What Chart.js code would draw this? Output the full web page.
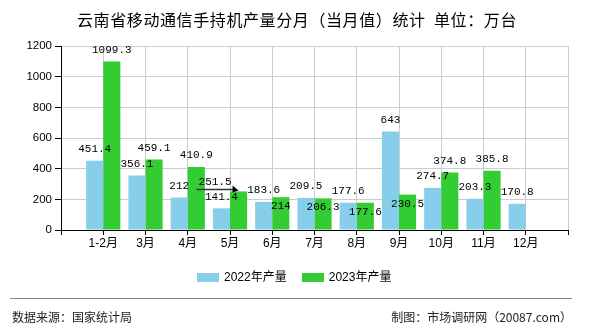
<!DOCTYPE html>
<html>
<head>
<meta charset="utf-8">
<script src="https://cdn.jsdelivr.net/npm/chart.js@4/dist/chart.umd.min.js"></script>
<style>
  html, body { margin: 0; padding: 0; background: #fff; }
  #wrap { position: relative; width: 590px; height: 330px; overflow: hidden; font-family: "Liberation Sans", "Noto Sans CJK SC", sans-serif; }
  #chart { position: absolute; left: 0; top: 0; }
  #title { position: absolute; left: 0; top: 9px; width: 594px; text-align: center; font: 16px/20px "Noto Sans CJK SC", sans-serif; letter-spacing: 0.6px; color: #000; white-space: pre; }
  #legend { position: absolute; left: 197px; top: 269px; display: flex; align-items: center; font-size: 12px; line-height: 16px; color: #000; }
  #legend .item { display: flex; align-items: center; margin-right: 15px; }
  #legend .box { width: 22px; height: 9px; margin-right: 5px; }
  #rule { position: absolute; left: 10px; top: 298px; width: 562px; height: 1px; background: #888; }
  .foot { position: absolute; top: 309px; font: 12px/16px "Noto Sans CJK SC", sans-serif; color: #222; }
</style>
</head>
<body>
<div id="wrap">
  <canvas id="chart" width="590" height="330"></canvas>
  <div id="title">云南省移动通信手持机产量分月（当月值）统计  单位：万台</div>
  <div id="legend"></div>
  <div id="rule"></div>
  <div class="foot" style="left:12px">数据来源：国家统计局</div>
  <div class="foot" style="right:18px">制图：市场调研网（20087.com）</div>
</div>
<script>
// monthly output, 10k units
const months = ['1-2月', '3月', '4月', '5月', '6月', '7月', '8月', '9月', '10月', '11月', '12月'];
const output2022 = [451.4, 356.1, 212, 141.4, 183.6, 209.5, 177.6, 643, 274.7, 203.3, 170.8];
const output2023 = [1099.3, 459.1, 410.9, 251.5, 214, 206.3, 177.6, 230.5, 374.8, 385.8, null];
const seriesNames = ['2022年产量', '2023年产量'];
const yMax = 1200;
const yStep = 200;

// where each 2023 value label goes (top / inside / left with pointer)
const place2023 = ['top', 'top', 'top', 'left', 'inside', 'inside', 'inside', 'inside', 'top', 'top', 'top'];

const colors = ['#87CEEB', '#33CC33'];

// empty slot at both ends of the x axis
const pad = arr => [null, ...arr, null];
const labels = ['', ...months, ''];

const valueLabels = {
  id: 'valueLabels',
  afterDatasetsDraw(chart) {
    const ctx = chart.ctx;
    ctx.save();
    ctx.font = '11px "Liberation Mono", monospace';
    ctx.fillStyle = '#000';
    ctx.textAlign = 'center';
    ctx.textBaseline = 'middle';
    chart.data.datasets.forEach((ds, di) => {
      const meta = chart.getDatasetMeta(di);
      meta.data.forEach((bar, i) => {
        const v = ds.data[i];
        if (v == null) return;
        const text = String(v);
        const place = di === 1 ? place2023[i - 1] : 'top';
        if (place === 'inside') {
          ctx.fillText(text, bar.x, bar.y + 9);
        } else if (place === 'left') {
          const lx = bar.x - 23.5;
          const ly = bar.y - 9.5;
          ctx.fillText(text, lx, ly);
          const w = ctx.measureText(text).width;
          // pointer from the label to the bar top
          ctx.strokeStyle = '#333';
          ctx.lineWidth = 1.5;
          ctx.beginPath();
          ctx.moveTo(lx - w / 2 - 2, bar.y - 2);
          ctx.lineTo(bar.x - 5, bar.y - 2);
          ctx.stroke();
          ctx.beginPath();
          ctx.moveTo(bar.x, bar.y - 1);
          ctx.lineTo(bar.x - 6, bar.y - 6);
          ctx.lineTo(bar.x - 6, bar.y + 1);
          ctx.closePath();
          ctx.fill();
        } else {
          ctx.fillText(text, bar.x, bar.y - 11.5);
        }
      });
    });
    ctx.restore();
  }
};

const chart = new Chart(document.getElementById('chart'), {
  type: 'bar',
  data: {
    labels: labels,
    datasets: [{
      label: seriesNames[0],
      data: pad(output2022),
      backgroundColor: colors[0]
    }, {
      label: seriesNames[1],
      data: pad(output2023),
      backgroundColor: colors[1]
    }]
  },
  options: {
    responsive: false,
    animation: false,
    layout: { padding: { top: 46, right: 22, left: 0, bottom: 0 } },
    datasets: {
      bar: { categoryPercentage: 0.81, barPercentage: 1 }
    },
    plugins: {
      legend: { display: false },
      tooltip: { enabled: false }
    },
    scales: {
      x: {
        offset: false,
        grid: { color: '#cccccc', tickColor: '#000', tickLength: 5, offset: false },
        border: { color: '#000', width: 1 },
        ticks: {
          color: '#000',
          padding: 1,
          autoSkip: false,
          maxRotation: 0,
          font: { family: '"Liberation Sans", "Noto Sans CJK SC"', size: 12 }
        },
        afterFit(s) { s.height = 100; }
      },
      y: {
        min: 0,
        max: yMax,
        grid: { color: '#cccccc', tickColor: '#000', tickLength: 6 },
        border: { color: '#000', width: 1 },
        ticks: {
          stepSize: yStep,
          color: '#000',
          padding: 3,
          font: { family: '"Liberation Sans"', size: 11.5 },
          callback: v => String(v)
        },
        afterFit(s) { s.width = 61; }
      }
    }
  },
  plugins: [valueLabels]
});

// legend built from the datasets
const legend = document.getElementById('legend');
chart.data.datasets.forEach(ds => {
  const item = document.createElement('div');
  item.className = 'item';
  item.innerHTML = `<span class="box" style="background:${ds.backgroundColor}"></span><span>${ds.label}</span>`;
  legend.appendChild(item);
});
</script>
</body>
</html>
